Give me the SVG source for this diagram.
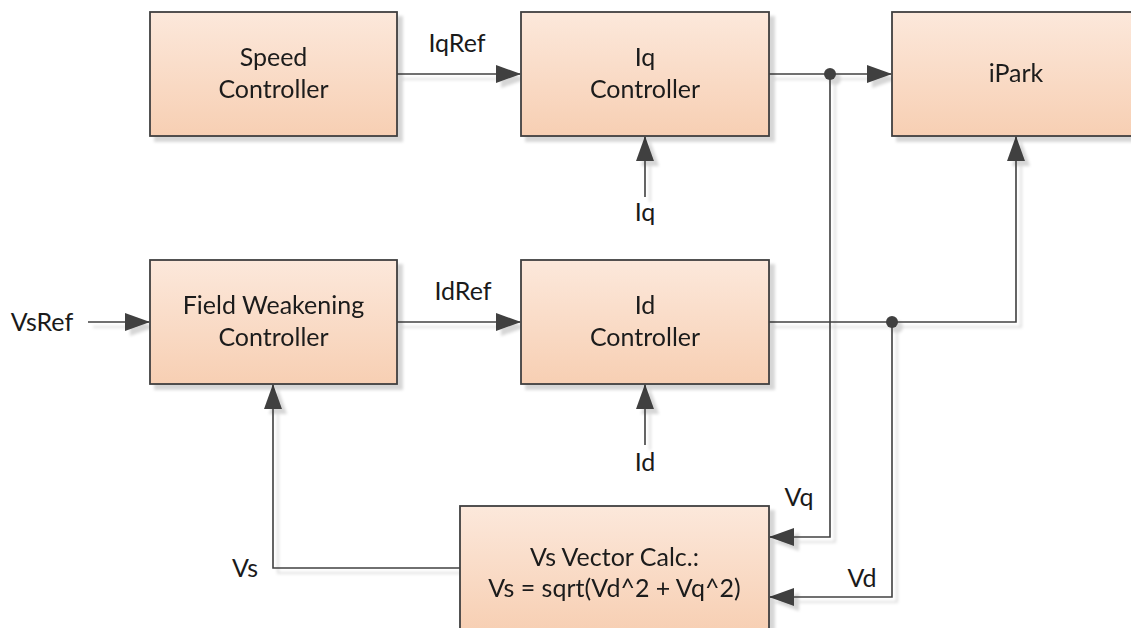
<svg xmlns="http://www.w3.org/2000/svg" width="1131" height="628" viewBox="0 0 1131 628">
<style>
.box{fill:url(#peach);stroke:#404040;stroke-width:1.8}
.t{font-family:Lato,"Liberation Sans",sans-serif;font-size:25px;fill:#1a1a1a;text-anchor:middle}
.c{fill:none;stroke:#404040;stroke-width:1.6}
</style>
<defs>
<linearGradient id="peach" x1="0" y1="0" x2="0" y2="1">
<stop offset="0" stop-color="#fce8db"/>
<stop offset="1" stop-color="#f7cfb3"/>
</linearGradient>
<filter id="sh" x="-10%" y="-10%" width="130%" height="140%">
<feDropShadow dx="5" dy="5" stdDeviation="1.5" flood-color="#000" flood-opacity="0.16"/>
</filter>
<marker id="arr" markerUnits="userSpaceOnUse" markerWidth="25" markerHeight="19" refX="24" refY="9.5" orient="auto">
<path d="M0,0.5 L25,9.5 L0,18.5 Z" fill="#404040"/>
</marker>
</defs>
<rect width="1131" height="628" fill="#fff"/>
<g id="connectors" filter="url(#sh)">
<path class="c" d="M397,74 H520" marker-end="url(#arr)"/>
<path class="c" d="M769,74 H891" marker-end="url(#arr)"/>
<path class="c" d="M645,197 V137" marker-end="url(#arr)"/>
<path class="c" d="M88,322 H149" marker-end="url(#arr)"/>
<path class="c" d="M397,322 H520" marker-end="url(#arr)"/>
<path class="c" d="M645,445 V385" marker-end="url(#arr)"/>
<path class="c" d="M769,322 H1016 V137" marker-end="url(#arr)"/>
<path class="c" d="M830,74 V537 H770" marker-end="url(#arr)"/>
<path class="c" d="M892,322 V597 H770" marker-end="url(#arr)"/>
<path class="c" d="M460,568 H273 V385" marker-end="url(#arr)"/>
<circle cx="830" cy="74" r="6" fill="#404040"/>
<circle cx="892" cy="322" r="6" fill="#404040"/>
</g>
<g id="speed" filter="url(#sh)">
<rect class="box" x="150" y="12" width="247" height="124"/>
<text class="t" x="273.5" y="66">Speed</text>
<text class="t" x="273.5" y="98">Controller</text>
</g>
<g id="iq" filter="url(#sh)">
<rect class="box" x="521" y="12" width="248" height="124"/>
<text class="t" x="645" y="66">Iq</text>
<text class="t" x="645" y="98">Controller</text>
</g>
<g id="ipark" filter="url(#sh)">
<rect class="box" x="892" y="12" width="248" height="124"/>
<text class="t" x="1016" y="82">iPark</text>
</g>
<g id="fw" filter="url(#sh)">
<rect class="box" x="150" y="260" width="247" height="124"/>
<text class="t" x="273.5" y="314">Field Weakening</text>
<text class="t" x="273.5" y="346">Controller</text>
</g>
<g id="id" filter="url(#sh)">
<rect class="box" x="521" y="260" width="248" height="124"/>
<text class="t" x="645" y="314">Id</text>
<text class="t" x="645" y="346">Controller</text>
</g>
<g id="vscalc" filter="url(#sh)">
<rect class="box" x="460" y="506" width="309" height="126"/>
<text class="t" x="614.5" y="566">Vs Vector Calc.:</text>
<text class="t" x="614.5" y="597">Vs = sqrt(Vd^2 + Vq^2)</text>
</g>
<g id="labels">
<text class="t" x="457" y="52">IqRef</text>
<text class="t" x="463" y="300">IdRef</text>
<text class="t" x="42" y="331">VsRef</text>
<text class="t" x="645" y="221">Iq</text>
<text class="t" x="645" y="471">Id</text>
<text class="t" x="245" y="577">Vs</text>
<text class="t" x="799" y="506">Vq</text>
<text class="t" x="862" y="587">Vd</text>
</g>
</svg>
